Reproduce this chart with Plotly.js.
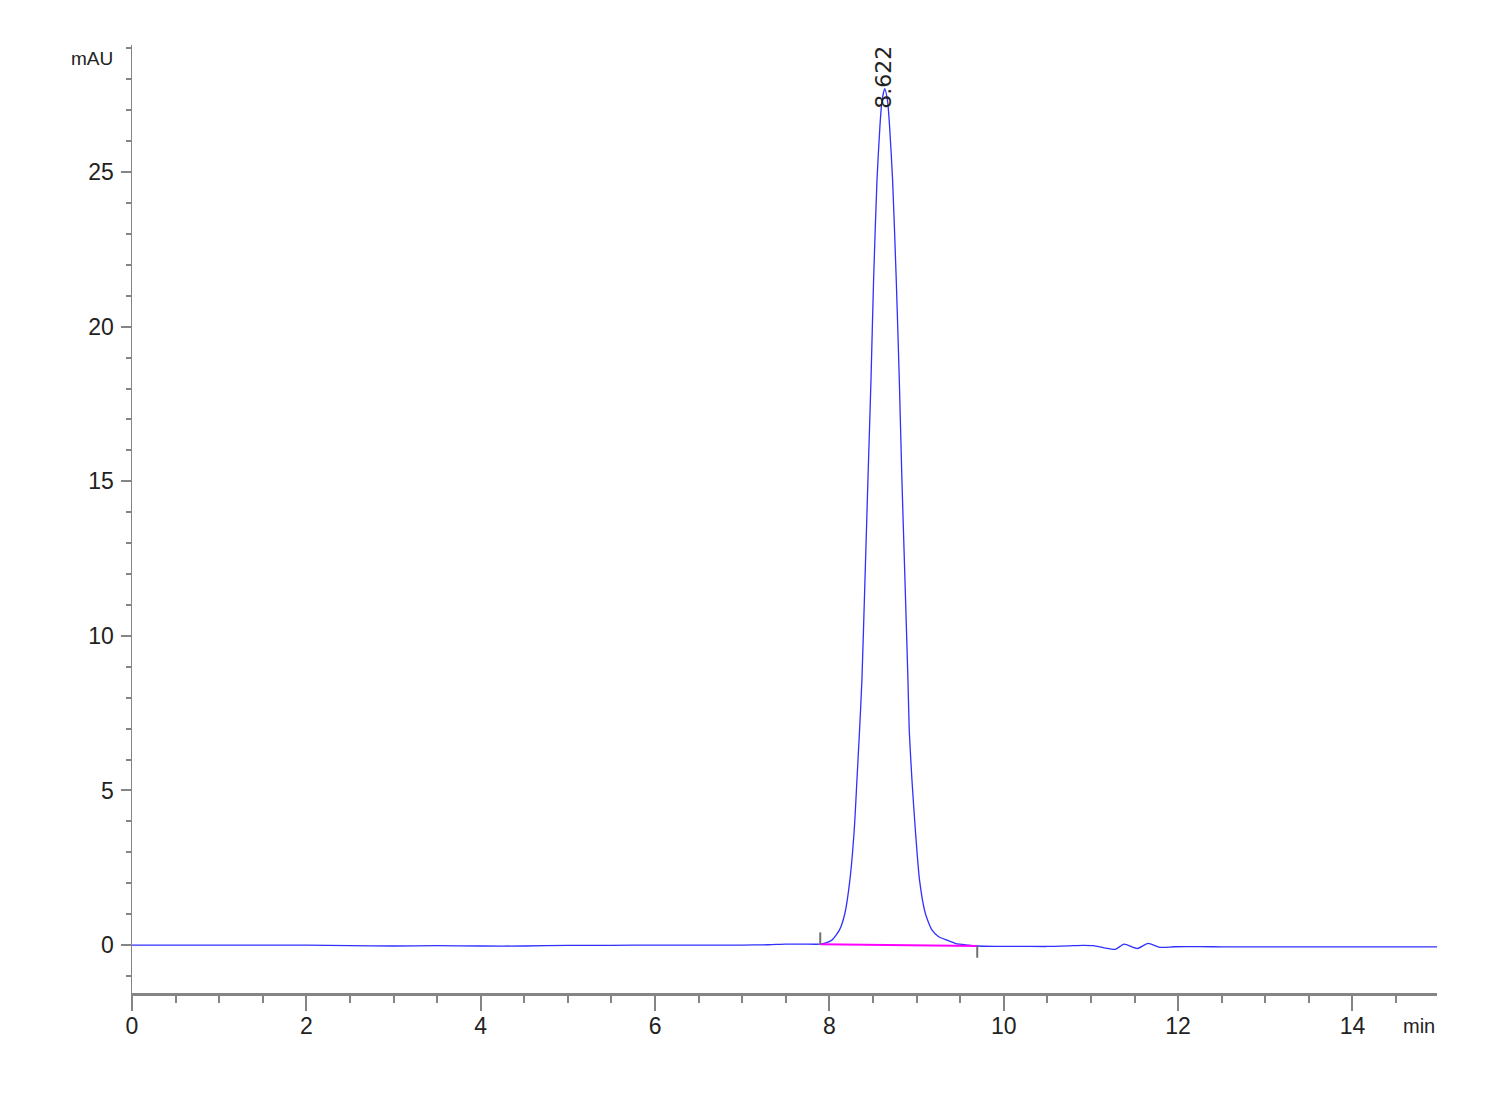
<!DOCTYPE html>
<html>
<head>
<meta charset="utf-8">
<script src="https://cdn.plot.ly/plotly-3.0.1.min.js"></script>
<style>html,body{margin:0;padding:0;background:#fff;}</style>
</head>
<body>
<div id="chart" style="width:1500px;height:1100px;"></div>
<script>
// Retention time (min)
const timeMin = [0,0.5,1,1.5,2,2.5,3,3.5,4,4.5,5,5.5,6,6.5,7,7.3,7.5,7.7,7.895,7.95,
  8.029,8.116,8.178,8.235,8.285,8.316,8.346,8.373,8.408,8.442,8.477,8.507,8.546,8.580,8.603,
  8.635,8.667,8.690,8.725,8.767,8.802,8.832,8.867,8.901,8.916,8.947,8.986,9.034,9.100,9.176,
  9.250,9.348,9.45,9.6,9.696,9.9,10.2,10.5,10.8,10.91,11.03,11.15,11.28,11.38,11.535,11.654,
  11.795,11.95,12.1,12.4,12.6,13,13.5,14,14.5,14.97];
// Absorbance (mAU)
const signalMAU = [0,0,0,0,0,-0.02,-0.03,-0.02,-0.03,-0.03,-0.01,-0.01,0,0,0,0.01,0.03,0.03,0.03,0.06,
  0.16,0.49,1.03,2.10,3.72,5.34,6.95,8.57,11.80,15.04,18.27,21.51,24.74,26.5,27.3,
  27.7,27.3,26.5,24.74,21.51,18.27,15.04,11.80,8.57,6.95,5.34,3.72,2.10,1.03,0.49,
  0.28,0.16,0.05,0.0,-0.03,-0.04,-0.04,-0.045,-0.02,-0.01,-0.02,-0.09,-0.14,0.03,-0.11,0.055,
  -0.075,-0.055,-0.05,-0.055,-0.06,-0.06,-0.06,-0.06,-0.06,-0.06];
// Integration baseline (start / end)
const integTime = [7.895, 9.696];
const integValue = [0.03, -0.03];
// Peak label
const peakTime = 8.622;
const peakLabel = "8.622";
// Axis ticks
const xTicks = [0,2,4,6,8,10,12,14];
const yTicks = [0,5,10,15,20,25];

const tickFamily = "Liberation Sans, Arial, sans-serif";
const grey = "#858585";
const markLen = 0.38;

const traces = [
  {x: timeMin, y: signalMAU, type: "scatter", mode: "lines",
   line: {color: "#3030ff", width: 1.3, shape: "spline", smoothing: 0.6}, hoverinfo: "skip"},
  {x: integTime, y: integValue, type: "scatter", mode: "lines",
   line: {color: "#ff00ff", width: 2}, hoverinfo: "skip"},
  {x: [integTime[0], integTime[0]], y: [integValue[0], integValue[0] + markLen], type: "scatter", mode: "lines",
   line: {color: "#707070", width: 2}, hoverinfo: "skip"},
  {x: [integTime[1], integTime[1]], y: [integValue[1], integValue[1] - markLen], type: "scatter", mode: "lines",
   line: {color: "#707070", width: 2}, hoverinfo: "skip"}
];

const layout = {
  width: 1500, height: 1100,
  margin: {l: 132, r: 63, t: 45, b: 107, pad: 0},
  paper_bgcolor: "#fff", plot_bgcolor: "#fff",
  showlegend: false,
  xaxis: {
    range: [0, 14.97], showline: true, linecolor: grey, linewidth: 2.5,
    ticks: "outside", ticklen: 15, tickwidth: 2, tickcolor: grey,
    tickvals: xTicks, ticktext: xTicks.map(String),
    showgrid: false, zeroline: false,
    tickfont: {family: tickFamily, size: 23, color: "#222"},
    ticklabelstandoff: -4,
    minor: {dtick: 0.5, tick0: 0, ticks: "outside", ticklen: 7, tickwidth: 2, tickcolor: grey, showgrid: false}
  },
  yaxis: {
    range: [-1.55, 29.11], showline: true, linecolor: grey, linewidth: 1.5,
    ticks: "outside", ticklen: 10, tickwidth: 2, tickcolor: grey,
    tickvals: yTicks, ticktext: yTicks.map(String),
    showgrid: false, zeroline: false,
    tickfont: {family: tickFamily, size: 23, color: "#222"},
    ticklabelstandoff: 2,
    minor: {dtick: 1, tick0: 0, ticks: "outside", ticklen: 5, tickwidth: 2, tickcolor: grey, showgrid: false}
  },
  annotations: [
    {text: "mAU", xref: "paper", yref: "paper", x: -0.013, y: 0.9858, xanchor: "right", yanchor: "middle",
     showarrow: false, font: {family: tickFamily, size: 19, color: "#222"}},
    {text: "min", xref: "paper", yref: "paper", x: 1.0, y: -0.0348, xanchor: "right", yanchor: "middle",
     showarrow: false, font: {family: tickFamily, size: 20, color: "#222"}},
    {text: peakLabel, xref: "x", yref: "y", x: peakTime, y: 28.07, xanchor: "center", yanchor: "middle",
     textangle: -90, showarrow: false, font: {family: "DejaVu Sans, sans-serif", size: 22, color: "#222"}}
  ]
};

Plotly.newPlot("chart", traces, layout, {displayModeBar: false, staticPlot: true});
</script>
</body>
</html>
